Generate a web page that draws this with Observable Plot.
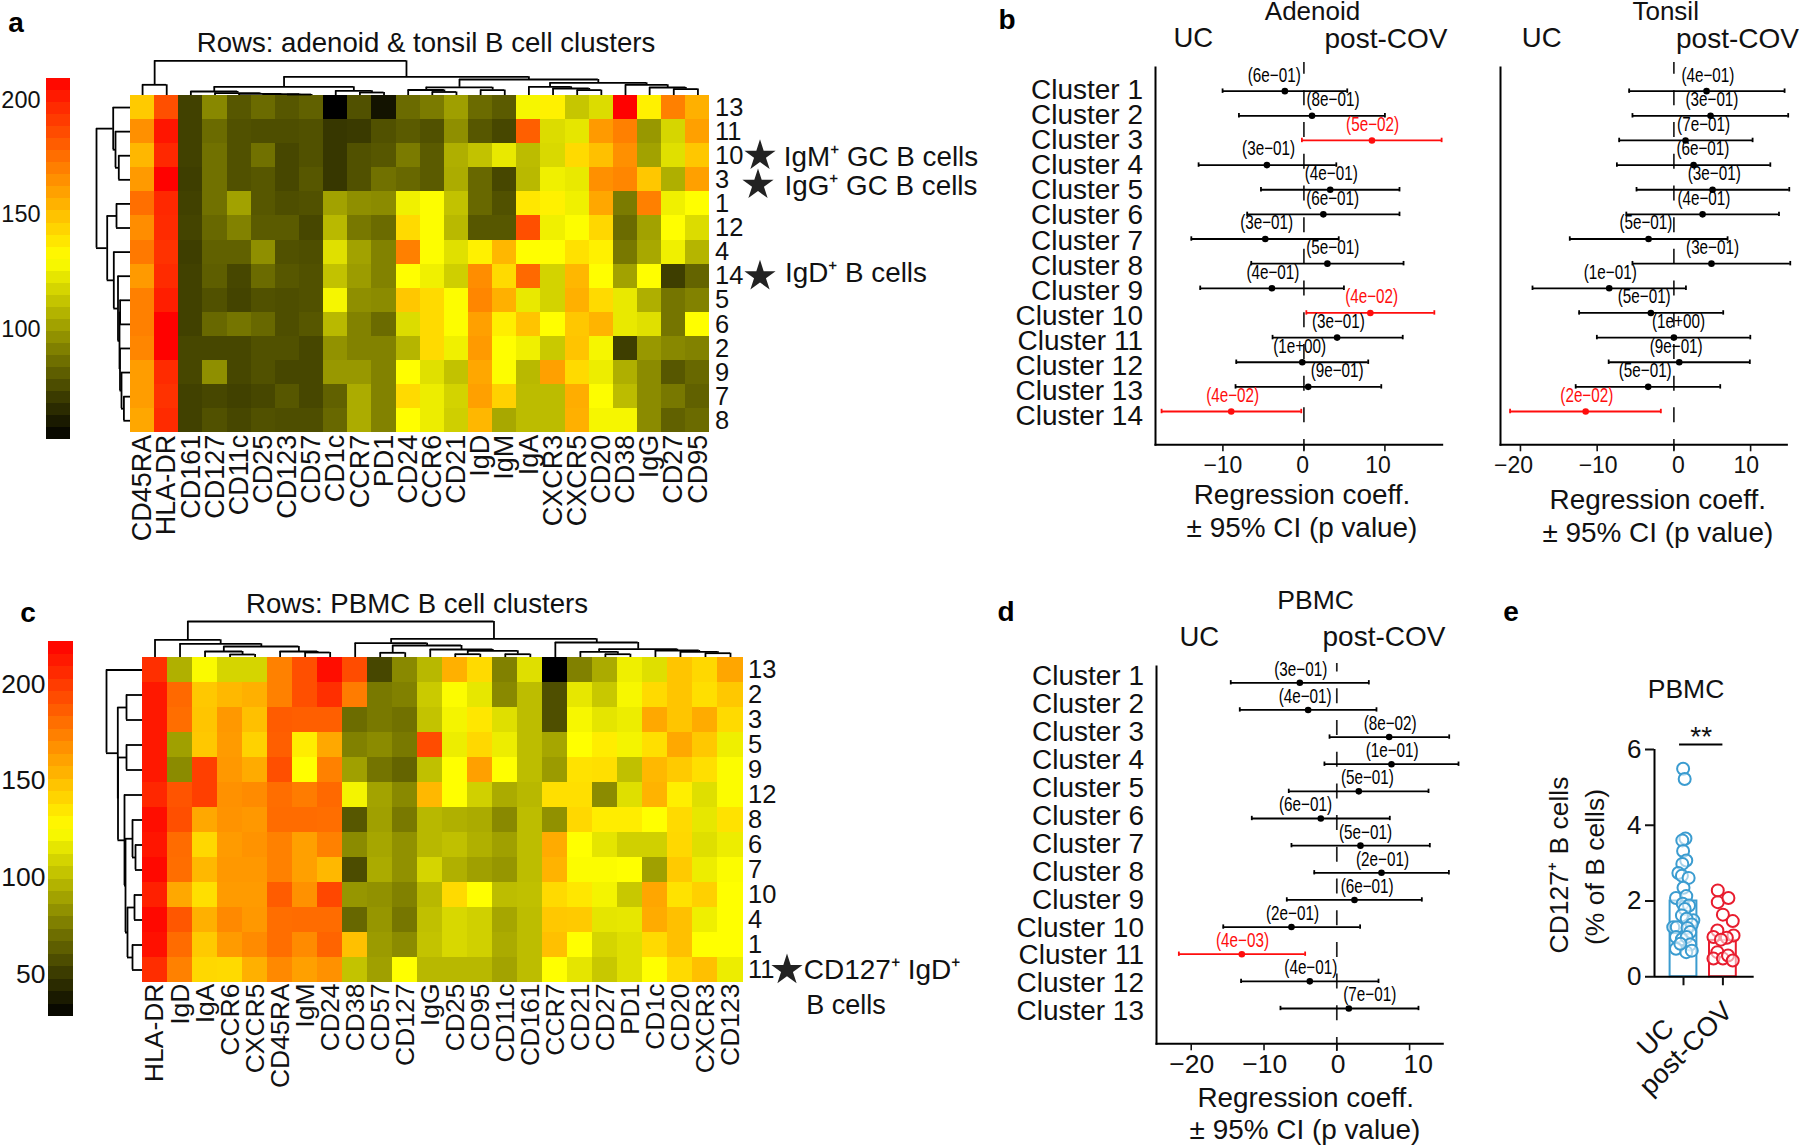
<!DOCTYPE html>
<html><head><meta charset="utf-8">
<style>
html,body{margin:0;padding:0;background:#fff}
#page{position:relative;width:1800px;height:1146px;overflow:hidden;font-family:"Liberation Sans",Arial,sans-serif;color:#111}
.note{position:absolute;white-space:nowrap;line-height:1;transform:translate(-50%,-50%)}
</style>
<script src="https://cdn.jsdelivr.net/npm/d3@7"></script>
<script src="https://cdn.jsdelivr.net/npm/@observablehq/plot@0.6"></script>
</head><body><div id="page"></div>
<script>
// ---------- panel a ----------
const markersA=["CD45RA","HLA-DR","CD161","CD127","CD11c","CD25","CD123","CD57","CD1c","CCR7","PD1","CD24","CCR6","CD21","IgD","IgM","IgA","CXCR3","CXCR5","CD20","CD38","IgG","CD27","CD95"];
const clustersA=["13","11","10","3","1","12","4","14","5","6","2","9","7","8"];
const valuesA=[
[147,185,72,94,79,85,79,82,52,77,58,85,90,101,85,80,128,135,113,120,209,135,170,155],
[165,203,72,85,77,76,76,77,69,70,77,80,77,96,79,74,180,120,123,162,170,99,118,160],
[153,197,72,87,77,87,74,77,69,77,79,90,80,106,112,124,110,119,142,150,165,102,121,148],
[162,209,71,87,77,79,74,79,69,77,87,84,80,105,84,74,109,126,124,165,168,148,106,160],
[175,197,72,87,102,79,76,77,102,96,95,126,130,112,84,77,138,135,126,158,90,170,126,131],
[166,196,73,84,92,80,80,74,109,89,85,142,130,109,79,79,185,126,130,143,85,102,131,120],
[172,194,71,82,82,96,77,76,121,102,92,170,130,121,135,153,131,131,140,135,89,104,126,108],
[162,196,72,81,74,85,79,77,112,100,92,131,126,116,166,142,177,117,153,131,102,131,71,83],
[170,200,72,77,73,77,76,77,128,96,95,148,142,130,168,155,124,117,155,142,124,106,88,92],
[170,209,72,84,88,84,76,79,109,92,85,120,142,130,160,136,149,131,148,154,124,121,88,131],
[168,209,74,74,74,77,77,74,97,92,92,108,142,126,162,131,126,114,149,128,71,99,94,92],
[161,196,74,96,74,77,74,74,99,99,92,131,121,112,158,130,109,160,142,125,106,95,79,84],
[161,194,72,74,72,74,79,74,82,105,92,142,125,117,160,145,110,110,156,130,110,95,89,82],
[158,196,72,77,74,77,76,76,84,105,92,131,125,116,153,104,110,110,155,128,128,95,82,85]];
// linkage lists: [left, right, height]; an id of n or more points at merge (id-n)
const columnTreeA=[[12,13,3.5],[11,24,5.5],[14,15,5.4],[25,26,8.2],[18,19,5.4],[17,28,7],[16,29,8.7],[22,23,6.4],[21,31,8],[20,32,10.7],[30,33,12.7],[27,34,16],[6,7,1],[5,36,1.3],[4,37,1.7],[3,38,2.4],[2,39,4],[9,10,3],[8,41,4.7],[40,42,8.7],[43,35,18.7],[0,1,10.7],[45,44,34.7]];
const rowTreeA=[[2,3,11.7],[1,14,15],[0,15,17.3],[8,9,10.4],[12,13,6.6],[11,18,9],[10,19,10.5],[17,20,11],[7,21,12.5],[6,22,16.7],[4,5,14],[24,23,23.3],[16,25,34]];
// ---------- panel c ----------
const markersC=["HLA-DR","IgD","IgA","CCR6","CXCR5","CD45RA","IgM","CD24","CD38","CD57","CD127","IgG","CD25","CD95","CD11c","CD161","CCR7","CD21","CD27","PD1","CD1c","CD20","CXCR3","CD123"];
const clustersC=["13","2","3","5","9","12","8","6","7","10","4","1","11"];
const valuesC=[
[204,95,123,109,109,173,192,217,193,55,80,98,155,139,77,113,28,77,93,119,113,147,140,159],
[213,182,146,152,155,173,192,204,175,74,77,105,124,116,80,100,58,116,104,122,139,147,137,146],
[213,180,147,164,149,187,186,186,69,74,71,102,121,134,113,100,58,122,115,118,158,147,157,139],
[213,89,146,163,142,186,132,158,77,81,74,193,118,140,118,100,91,125,132,121,137,158,146,119],
[213,81,198,164,157,192,125,173,89,72,66,101,125,161,125,100,87,136,137,101,152,145,137,124],
[207,190,198,167,169,180,175,182,121,90,80,152,125,107,93,98,137,137,81,113,154,131,113,124],
[217,192,158,166,164,181,181,180,61,89,74,98,95,93,80,100,83,140,132,132,125,139,116,136],
[214,181,140,163,166,173,161,173,81,91,83,98,101,95,89,100,157,125,115,107,107,140,113,118],
[219,180,152,164,164,173,161,152,57,93,83,109,95,89,85,100,154,124,124,125,89,145,118,124],
[210,158,137,163,163,187,167,195,85,83,77,98,139,125,100,101,139,134,121,104,159,136,143,125],
[219,189,155,170,164,180,181,181,67,85,73,101,110,107,91,100,146,145,115,116,157,149,119,125],
[216,181,145,163,169,180,169,184,149,87,81,102,110,107,93,100,149,125,109,113,139,149,125,125],
[205,173,140,139,155,170,161,167,102,89,125,98,98,98,90,100,125,115,104,113,125,139,149,118]];
const columnTreeC=[[3,4,3],[2,24,6],[6,7,5],[5,26,6],[25,27,11],[1,28,13.7],[0,29,17.7],[9,10,4.7],[12,13,3.3],[14,15,3.3],[32,33,6.7],[11,34,8],[31,35,12],[8,36,14.3],[18,19,3.3],[17,38,5.7],[22,23,4.3],[21,40,5.7],[20,41,7],[39,42,8.3],[16,43,15],[37,44,18.7],[30,45,36]];
const rowTreeC=[[7,8,7],[6,13,10],[9,10,8],[11,12,10],[15,16,15],[14,17,17],[5,18,18],[3,4,16],[20,19,24.5],[1,2,16],[22,21,24.7],[0,23,36]];
// ---------- panel b ----------
const adenoidCoef=[-2.35,1.0,8.4,-4.57,3.25,2.4,-4.77,2.9,-3.95,8.2,4.1,-0.2,0.53,-8.97];
const adenoidLow=[-10.04,-8.02,-0.25,-13.0,-5.3,-7.0,-13.9,-6.5,-12.8,0.3,-3.87,-8.35,-8.44,-17.57];
const adenoidHigh=[5.35,10.0,17.0,4.0,11.8,11.8,4.3,12.3,4.94,16.1,12.2,7.94,9.55,-0.33];
const adenoidP=["6e−01","8e−01","5e−02","3e−01","4e−01","6e−01","3e−01","5e−01","4e−01","4e−02","3e−01","1e+00","9e−01","4e−02"];
const adenoidLabelAt=[-3.66,3.59,8.48,-4.36,3.37,3.55,-4.6,3.56,-3.83,8.36,4.26,-0.53,4.1,-8.8];
const adenoidTicks=[-10,0,10];
const adenoidTickLabelAt=[-10,-0.16,9.14];
const tonsilCoef=[4.26,4.78,1.52,2.57,5.04,3.74,-3.3,4.9,-8.43,-3.0,0,0.7,-3.35,-11.5];
const tonsilLow=[-5.83,-5.4,-7.13,-7.43,-4.87,-6.2,-13.57,-5.4,-18.43,-12.35,-10.04,-8.5,-12.8,-21.35];
const tonsilHigh=[14.43,14.9,10.26,12.57,15.04,13.7,7.0,15.17,1.57,6.43,9.96,9.9,6.04,-1.7];
const tonsilP=["4e−01","3e−01","7e−01","6e−01","3e−01","4e−01","5e−01","3e−01","1e−01","5e−01","1e+00","9e−01","5e−01","2e−02"];
const tonsilLabelAt=[4.43,4.96,3.87,3.78,5.26,3.91,-3.65,5.04,-8.3,-3.87,0.6,0.3,-3.74,-11.35];
const tonsilTicks=[-20,-10,0,10];
const tonsilTickLabelAt=[-20.9,-9.87,0.6,9.43];
// ---------- panel d ----------
const pbmcCoef=[-5.08,-3.94,7.19,7.51,3.02,-2.2,3.25,6.14,2.43,-6.23,-13.05,-3.71,1.65];
const pbmcLow=[-14.57,-13.33,-1.0,-1.7,-6.6,-11.68,-6.23,-3.1,-6.87,-15.6,-21.7,-13.15,-7.74];
const pbmcHigh=[4.4,5.45,15.44,16.72,12.6,7.28,12.78,15.4,11.68,3.2,-4.35,5.73,11.22];
const pbmcP=["3e−01","4e−01","8e−02","1e−01","5e−01","6e−01","5e−01","2e−01","6e−01","2e−01","4e−03","4e−01","7e−01"];
const pbmcLabelAt=[-4.95,-4.35,7.33,7.6,4.2,-4.3,3.94,6.28,4.17,-6.09,-12.96,-3.57,4.53];
const pbmcTicks=[-20,-10,0,10];
const pbmcTickLabelAt=[-19.93,-9.9,0.18,11.2];
// ---------- panel e ----------
const groupsE=["UC","post-COV"];
const meansE=[2.0,0.96];
const ucPercent=[5.49,5.22,3.65,3.6,3.32,3.07,2.98,2.74,2.67,2.61,2.35,2.08,2.13,1.93,1.88,1.79,1.62,1.49,1.53,1.38,1.31,1.31,1.29,1.18,1.05,0.99,1.05,0.85,0.74,0.65,0.69,0.87];
const ucJitter=[-0.01,0.03,0.05,-0.03,-0.01,0.07,-0.03,-0.13,-0.04,0.13,0,-0.19,0.07,-0.02,0.14,0.03,-0.04,0.25,0.08,0.21,-0.26,-0.17,0.1,0.17,-0.19,-0.04,0.08,0.17,-0.19,0.07,0.21,-0.08];
const covPercent=[2.28,1.97,2.08,1.64,1.47,1.22,1.05,1.09,1.03,0.98,0.65,0.48,0.48,0.56,0.43];
const covJitter=[-0.13,-0.13,0.14,0,0.25,-0.14,-0.24,0.27,0.1,-0.05,-0.14,-0.24,0,0.13,0.25];

const page=document.getElementById("page");
const INK="#111", RED="#ff0d0d", BLUE="#3b9cd0", CRIMSON="#e81c2e";
const FONT='"Liberation Sans",Arial,sans-serif';
const heatRange=["#000000","#ffff00","#ff0000"];

function place(box,options){
  page.appendChild(Plot.plot({
    width:box.x1-box.x0,height:box.y1-box.y0,
    marginTop:0,marginRight:0,marginBottom:0,marginLeft:0,
    style:{position:"absolute",left:box.x0+"px",top:box.y0+"px",overflow:"visible",background:"transparent",fontFamily:FONT,color:INK,maxWidth:"none"},
    ...options}));
}
function note(text,x,y,size,extra={}){
  const d=document.createElement("div");
  d.className="note";d.textContent=text;
  d.style.left=x+"px";d.style.top=y+"px";d.style.fontSize=size+"px";
  Object.assign(d.style,extra);
  page.appendChild(d);
}
function heatmap(box,cols,rows,vals,scale,fonts){
  const cells=rows.flatMap((r,i)=>cols.map((c,j)=>({row:r,col:c,value:vals[i][j]})));
  place(box,{
    x:{domain:cols,padding:0,round:false,axis:null},
    y:{domain:rows,padding:0,round:false,axis:null},
    color:scale,
    marks:[
      Plot.cell(cells,{x:"col",y:"row",fill:"value",inset:0,shapeRendering:"crispEdges"}),
      Plot.axisX({anchor:"bottom",tickSize:0,tickPadding:fonts.colPad,tickRotate:-90,fontSize:fonts.col,label:null}),
      Plot.axisY({anchor:"right",tickSize:0,tickPadding:fonts.rowPad,fontSize:fonts.row,label:null})
    ]});
}
function colorbar(box,scale,ticks,font,pad){
  const [lo,,hi]=scale.domain, n=30, step=(hi-lo)/n;
  const bands=d3.range(n).map(i=>({a:lo+i*step,b:lo+(i+1)*step,m:lo+(i+.5)*step}));
  place(box,{
    y:{domain:[lo,hi],axis:null},color:scale,
    marks:[
      Plot.rect(bands,{y1:"a",y2:"b",fill:"m",shapeRendering:"crispEdges"}),
      Plot.axisY(ticks,{anchor:"left",tickSize:0,tickPadding:pad,fontSize:font,label:null})
    ]});
}
function segments(tree,n){
  const pos=[],hgt=[];
  const P=id=>id<n?id:pos[id-n], H=id=>id<n?0:hgt[id-n];
  const out=[];
  tree.forEach(([a,b,h],k)=>{
    out.push({a:P(a),b:P(b),h,ha:H(a),hb:H(b)});
    pos[k]=(P(a)+P(b))/2;hgt[k]=h;
  });
  return out;
}
const dendroStyle={stroke:"#000",strokeWidth:1.8};
function dendroTop(box,tree,n,top){
  const s=segments(tree,n), st=dendroStyle;
  place(box,{
    x:{domain:[-.5,n-.5],axis:null},y:{domain:[0,top],axis:null},
    marks:[
      Plot.ruleY(s,{y:"h",x1:"a",x2:"b",...st}),
      Plot.ruleX(s,{x:"a",y1:"ha",y2:"h",...st}),
      Plot.ruleX(s,{x:"b",y1:"hb",y2:"h",...st})
    ]});
}
function dendroLeft(box,tree,n,top){
  const s=segments(tree,n), st=dendroStyle;
  place(box,{
    x:{domain:[top,0],axis:null},y:{domain:[n-.5,-.5],axis:null},
    marks:[
      Plot.ruleX(s,{x:"h",y1:"a",y2:"b",...st}),
      Plot.ruleY(s,{y:"a",x1:"ha",x2:"h",...st}),
      Plot.ruleY(s,{y:"b",x1:"hb",x2:"h",...st})
    ]});
}
// condense the p-value labels to the narrow width they have in the figure
function condensed(width){
  return (index,scales,values,dims,ctx,next)=>{
    const g=next(index,scales,values,dims,ctx);
    g.querySelectorAll("text").forEach(t=>{t.setAttribute("textLength",width);t.setAttribute("lengthAdjust","spacingAndGlyphs");});
    return g;
  };
}
function forest(o){
  const rows=o.coef.map((c,i)=>({
    rank:i+1,name:"Cluster "+(i+1),coef:c,low:o.low[i],high:o.high[i],
    p:"("+o.p[i]+")",at:o.at[i],nameRank:o.nameStart+i*o.nameStep,
    color:Number(o.p[i].replace("−","-"))<=0.05?RED:"#000"}));
  const cap=o.cap, lw=1.8;
  const tickText=new Map(o.tickLabelAt.map((x,i)=>[x,d3.format("")(o.ticks[i]).replace("-","−")]));
  place(o.box,{
    x:{domain:o.domain,axis:null},y:{domain:o.ranks,axis:null},color:{type:"identity"},
    marks:[
      Plot.ruleX([0],{y1:o.dash[0],y2:o.dash[1],stroke:"#222",strokeWidth:1.7,strokeDasharray:"15 16.7",strokeDashoffset:o.dash[2]}),
      Plot.ruleY(rows,{y:"rank",x1:"low",x2:"high",stroke:"color",strokeWidth:lw}),
      Plot.ruleX(rows,{x:"low",y1:d=>d.rank-cap,y2:d=>d.rank+cap,stroke:"color",strokeWidth:lw}),
      Plot.ruleX(rows,{x:"high",y1:d=>d.rank-cap,y2:d=>d.rank+cap,stroke:"color",strokeWidth:lw}),
      Plot.dot(rows,{x:"coef",y:"rank",r:3.3,fill:"color"}),
      Plot.text(rows,{x:"at",y:"rank",text:"p",dy:o.pDy,fill:"color",fontSize:20,render:condensed(53)}),
      o.names?Plot.text(rows,{x:o.domain[0],y:"nameRank",text:"name",textAnchor:"end",dx:-12.5,fontSize:28,fill:INK}):null,
      Plot.frame({anchor:"left",stroke:"#000",strokeWidth:2}),
      Plot.frame({anchor:"bottom",stroke:"#000",strokeWidth:2}),
      Plot.axisX(o.ticks,{anchor:"bottom",tickSize:7,tickFormat:()=>"",strokeWidth:1.6,label:null}),
      Plot.axisX(o.tickLabelAt,{anchor:"bottom",tickSize:0,stroke:"none",tickPadding:o.tickPad,fontSize:o.tickFont,tickFormat:d=>tickText.get(d),label:null})
    ]});
}

// ---- panel a
const scaleA={type:"linear",domain:[52,130.7,209.4],range:heatRange,interpolate:"rgb"};
const boxA={x0:130,x1:709.5,y0:94.7,y1:432};
colorbar({x0:46.3,x1:70.7,y0:78.3,y1:439.7},scaleA,[100,150,200],23.5,6);
heatmap(boxA,markersA,clustersA,valuesA,scaleA,{col:27,colPad:2,row:25.5,rowPad:5});
dendroTop({x0:boxA.x0,x1:boxA.x1,y0:boxA.y0-40,y1:boxA.y0},columnTreeA,24,40);
dendroLeft({x0:boxA.x0-40,x1:boxA.x0,y0:boxA.y0,y1:boxA.y1},rowTreeA,14,40);
// ---- panel c
const scaleC={type:"linear",domain:[28,125,222],range:heatRange,interpolate:"rgb"};
const boxC={x0:142,x1:742.5,y0:657,y1:982};
colorbar({x0:48,x1:72.7,y0:640.7,y1:1016},scaleC,[50,100,150,200],26.5,3);
heatmap(boxC,markersC,clustersC,valuesC,scaleC,{col:26.5,colPad:1,row:25.5,rowPad:5});
dendroTop({x0:boxC.x0,x1:boxC.x1,y0:boxC.y0-40,y1:boxC.y0},columnTreeC,24,40);
dendroLeft({x0:boxC.x0-40,x1:boxC.x0,y0:boxC.y0,y1:boxC.y1},rowTreeC,13,40);
// ---- stars, placed on the rows they mark
function stars(box,rows,all){
  place(box,{x:{domain:[0,1],axis:null},y:{domain:[all.length-.5,-.5],axis:null},
    marks:[Plot.dot(rows,{x:.5,y:d=>all.indexOf(d),symbol:"star",r:9.8,fill:"#222",stroke:null})]});
}
stars({x0:748,x1:771,y0:94.7,y1:432},["10","14"],clustersA);
stars({x0:746,x1:769,y0:94.7+5,y1:432+5},["3"],clustersA);
stars({x0:775,x1:798,y0:657,y1:982},["11"],clustersC);
// ---- panel b
const nameB={nameStart:.947,nameStep:1.0195};
forest({box:{x0:1155.3,x1:1442,y0:66.7,y1:444},coef:adenoidCoef,low:adenoidLow,high:adenoidHigh,p:adenoidP,at:adenoidLabelAt,
  domain:[-18.32,17.07],ranks:[15.35,.04],ticks:adenoidTicks,tickLabelAt:adenoidTickLabelAt,cap:.09,dash:[-.16,15.59,3.4],pDy:-16,tickPad:12,tickFont:23,names:true,...nameB});
forest({box:{x0:1500.3,x1:1786.7,y0:66.7,y1:444},coef:tonsilCoef,low:tonsilLow,high:tonsilHigh,p:tonsilP,at:tonsilLabelAt,
  domain:[-22.6,14.73],ranks:[15.35,.04],ticks:tonsilTicks,tickLabelAt:tonsilTickLabelAt,cap:.09,dash:[-.16,15.59,3.4],pDy:-16,tickPad:12,tickFont:23,names:false,...nameB});
// ---- panel d
forest({box:{x0:1155.7,x1:1442,y0:666,y1:1043.3},coef:pbmcCoef,low:pbmcLow,high:pbmcHigh,p:pbmcP,at:pbmcLabelAt,
  domain:[-24.77,14.56],ranks:[14.3,.4],ticks:pbmcTicks,tickLabelAt:pbmcTickLabelAt,cap:.08,dash:[.29,14.58,6.4],pDy:-13.5,tickPad:10,tickFont:26.5,names:true,nameStart:.768,nameStep:1.028});
// ---- panel e
const uc=ucPercent.map((v,i)=>({x:ucJitter[i],v}));
const cov=covPercent.map((v,i)=>({x:1+covJitter[i],v}));
const barsE=[{x1:-.34,x2:.34,v:meansE[0],c:BLUE},{x1:.66,x2:1.34,v:meansE[1],c:CRIMSON}];
place({x0:1654.3,x1:1754,y0:749,y1:976.3},{
  x:{domain:[-.736,1.794],axis:null},y:{domain:[0,6],axis:null},color:{type:"identity"},
  marks:[
    Plot.rect(barsE,{x1:"x1",x2:"x2",y1:0,y2:"v",stroke:"c",strokeWidth:2,fill:"none"}),
    Plot.dot(uc,{x:"x",y:"v",r:6,stroke:BLUE,strokeWidth:2,fill:"#fff",fillOpacity:.55}),
    Plot.dot(cov,{x:"x",y:"v",r:6,stroke:CRIMSON,strokeWidth:2,fill:"#fff",fillOpacity:.55}),
    Plot.ruleX([-.736],{y1:0,y2:6,stroke:"#000",strokeWidth:2}),
    Plot.ruleY([0],{x1:-.736,x2:1.794,stroke:"#000",strokeWidth:2}),
    Plot.axisY([0,2,4,6],{anchor:"left",tickSize:9,tickPadding:4,fontSize:26,strokeWidth:2,label:null}),
    Plot.axisX([0,1],{anchor:"bottom",tickSize:9,tickFormat:()=>"",strokeWidth:2,label:null}),
    Plot.ruleY([6.13],{x1:-.1,x2:1,stroke:"#000",strokeWidth:2}),
    Plot.text(["**"],{x:.45,y:6.13,dy:-8,fontSize:28,fill:INK}),
    Plot.text([groupsE[0]],{x:0,y:0,text:d=>d,dx:-14,dy:47,rotate:-45,textAnchor:"end",fontSize:27,fill:INK}),
    Plot.text([groupsE[1]],{x:1,y:0,text:d=>d,dx:5,dy:30,rotate:-45,textAnchor:"end",fontSize:27,fill:INK})
  ]});

// ---- titles and annotations
[["a",16,23],["b",1007,20],["c",28,613],["d",1006,612],["e",1511,612]].forEach(([t,x,y])=>note(t,x,y,28,{fontWeight:"bold",color:"#000"}));
note("Rows: adenoid & tonsil B cell clusters",426,43.3,27.6);
note("Rows: PBMC B cell clusters",417,604,27.6);
note("IgM⁺ GC B cells",881,156.7,27.8);
note("IgG⁺ GC B cells",881,186,27.8);
note("IgD⁺ B cells",856,272.7,27.8);
note("CD127⁺ IgD⁺",882,970,28);
note("B cells",846,1004.5,27);
note("Adenoid",1312.5,11,26);note("UC",1193.3,38,27.5);note("post-COV",1386,39,28);
note("Tonsil",1665.7,11,26);note("UC",1541.7,38,27.5);note("post-COV",1737.5,39,28);
note("PBMC",1315.6,600,26.5);note("UC",1199.3,636.7,27.5);note("post-COV",1384,636.5,28);
note("Regression coeff.",1302,495,27.9);note("± 95% CI (p value)",1302,528,27.9);
note("Regression coeff.",1657.8,500,27.9);note("± 95% CI (p value)",1657.8,533,27.9);
note("Regression coeff.",1305.7,1097.7,27.9);note("± 95% CI (p value)",1305,1130,27.9);
note("PBMC",1686,689,26.5);
note("CD127⁺ B cells",1559,865,26.5,{transform:"translate(-50%,-50%) rotate(-90deg)"});
note("(% of B cells)",1595,866.7,26.5,{transform:"translate(-50%,-50%) rotate(-90deg)"});
</script></body></html>
